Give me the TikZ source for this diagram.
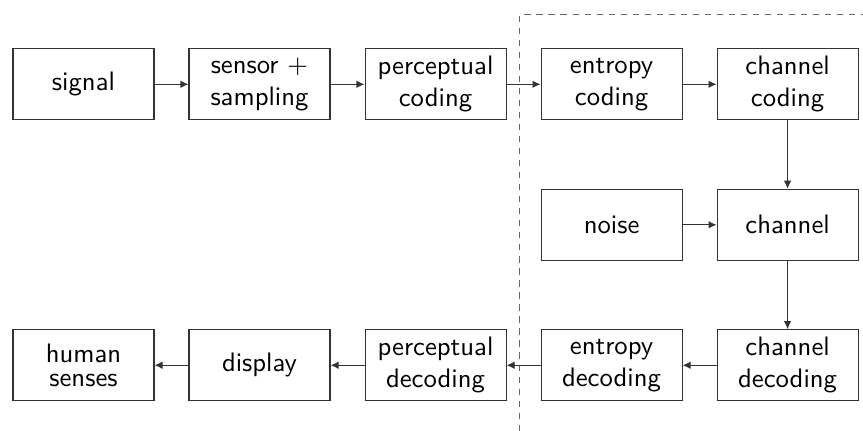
\documentclass[tikz,border=0pt]{standalone}
\usepackage{amsmath}
\usetikzlibrary{arrows.meta,positioning}

\begin{document}
\begin{tikzpicture}[
  blk/.style={draw=black!80, fill=white, minimum width=1.856cm, minimum height=0.935cm, inner sep=1pt, align=center, font=\sffamily},
  link/.style={draw=black!80, -{Latex[length=3pt,width=2.8pt]}},
  frame/.style={draw=black!60, dash pattern=on 2.3pt off 2.2pt}]
  \useasboundingbox (0,0) rectangle (11.36,5.67);
  % dashed frame round the channel part
  \coordinate (fb) at (6.843,0);
  \coordinate (fc) at (6.843,5.475);
  \coordinate (fr) at (11.36,5.475);
  \draw[frame] (fb) -- (fc) -- (fr);
  % top row
  \node[blk] (sig) at (1.099,4.560) {signal};
  \node[blk, right=0.447cm of sig] (sens) {sensor $+$\\sampling};
  \node[blk, right=0.447cm of sens] (pcod) {perceptual\\coding};
  \node[blk, right=0.447cm of pcod] (ecod) {entropy\\coding};
  \node[blk, right=0.447cm of ecod] (ccod) {channel\\coding};
  % middle row
  \node[blk, below=0.9cm of ccod] (chan) {channel};
  \node[blk, left=0.447cm of chan] (noise) {noise};
  % bottom row
  \node[blk, below=0.9cm of chan] (cdec) {channel\\decoding};
  \node[blk, left=0.447cm of cdec] (edec) {entropy\\decoding};
  \node[blk, left=0.447cm of edec] (pdec) {perceptual\\decoding};
  \node[blk, left=0.447cm of pdec] (disp) {display};
  \node[blk, left=0.447cm of disp] (hum) {human\\[-3pt]senses};
  % connections
  \draw[link] (sig) -- (sens);
  \draw[link] (sens) -- (pcod);
  \draw[link] (pcod) -- (ecod);
  \draw[link] (ecod) -- (ccod);
  \draw[link] (ccod) -- (chan);
  \draw[link] (noise) -- (chan);
  \draw[link] (chan) -- (cdec);
  \draw[link] (cdec) -- (edec);
  \draw[link] (edec) -- (pdec);
  \draw[link] (pdec) -- (disp);
  \draw[link] (disp) -- (hum);
\end{tikzpicture}
\end{document}
